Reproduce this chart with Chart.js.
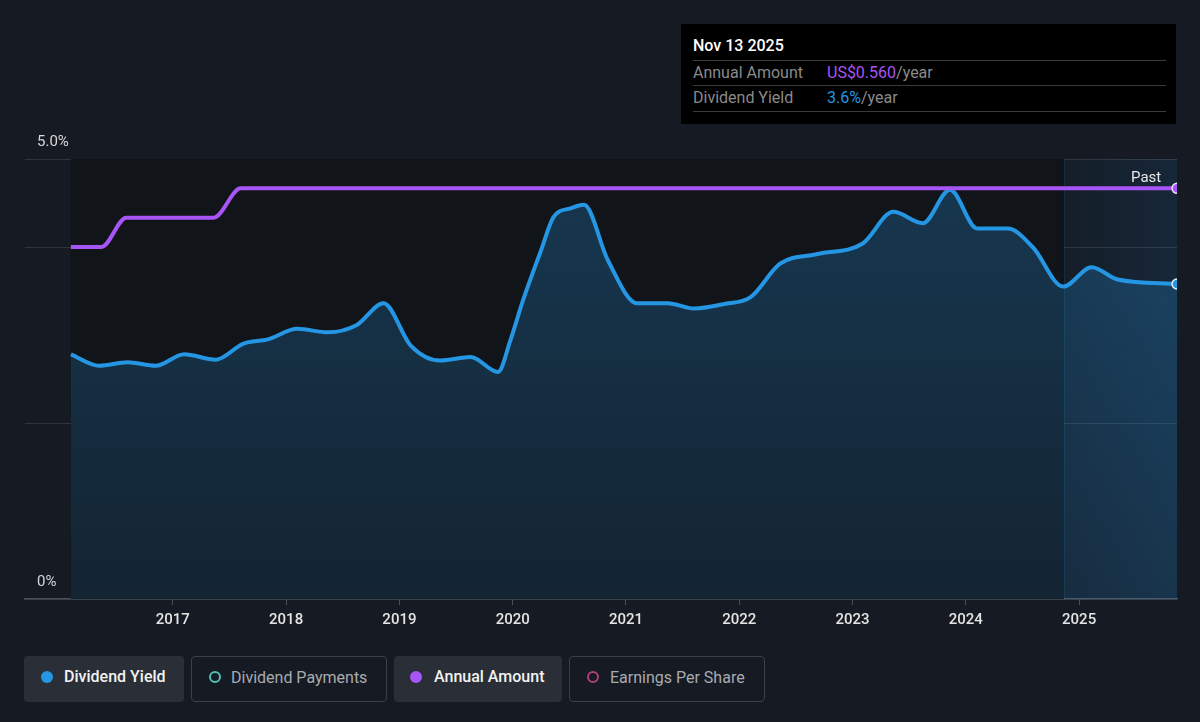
<!DOCTYPE html>
<html>
<head>
<meta charset="utf-8">
<script src="https://cdn.jsdelivr.net/npm/chart.js@4.4.1/dist/chart.umd.min.js"></script>
<style>
    html, body { margin: 0; padding: 0; background: #151a23; font-family: Roboto, "Noto Sans", sans-serif; }
    #wrap { position: relative; width: 1200px; height: 722px; overflow: hidden; }
    #chartBox { position: absolute; left: 0; top: 0; width: 1200px; height: 650px; }
    .tip { position: absolute; left: 681px; top: 24px; width: 495px; height: 100px; background: #000; }
    .tip-title { position: absolute; left: 12px; top: 12px; color: #fff; font-size: 16px; font-weight: 500; }
    .tip-row { position: absolute; left: 12px; width: 473px; height: 25px; border-top: 1px solid #3a3a3a; font-size: 16px; color: #8a8a8a; line-height: 24px; }
    .tip-row .val { position: absolute; left: 134px; top: 0; }
    .past { position: absolute; left: 1131px; top: 168px; color: #e8e8e8; font-size: 15px; }
    .legend { position: absolute; top: 656px; height: 46px; box-sizing: border-box; border-radius: 4px; font-size: 16px; line-height: 42px; }
    .legend.on { background: #2a2e36; color: #f2f2f2; font-weight: 500; }
    .legend.off { border: 1px solid #3c4049; color: #a9abb0; }
    .legend .dot { position: absolute; top: 15px; width: 12px; height: 12px; border-radius: 50%; box-sizing: border-box; }
    .legend.off .dot { top: 14px; }
    .legend .txt { position: absolute; top: 0; }
</style>
</head>
<body>
<div id="wrap">
    <div id="chartBox"><canvas id="yieldChart"></canvas></div>

    <div class="tip">
        <div class="tip-title">Nov 13 2025</div>
        <div class="tip-row" style="top:36px">Annual Amount<span class="val"><span style="color:#a855f7">US$0.560</span>/year</span></div>
        <div class="tip-row" style="top:61px">Dividend Yield<span class="val"><span style="color:#2596e4">3.6%</span>/year</span></div>
        <div class="tip-row" style="top:87px;height:0"></div>
    </div>

    <div class="past">Past</div>

    <div class="legend on" style="left:24px;width:160px">
        <span class="dot" style="left:17px;background:#2596e4"></span><span class="txt" style="left:40px">Dividend Yield</span>
    </div>
    <div class="legend off" style="left:191px;width:196px">
        <span class="dot" style="left:17px;border:2px solid #4fc1b0"></span><span class="txt" style="left:39px">Dividend Payments</span>
    </div>
    <div class="legend on" style="left:394px;width:168px">
        <span class="dot" style="left:16px;background:#a855f7"></span><span class="txt" style="left:40px">Annual Amount</span>
    </div>
    <div class="legend off" style="left:569px;width:196px">
        <span class="dot" style="left:17px;border:2px solid #b0407a"></span><span class="txt" style="left:40px">Earnings Per Share</span>
    </div>
</div>

<script>
// dates are decimal years
const yieldDates = [2016.10, 2016.35, 2016.60, 2016.85, 2017.10, 2017.38, 2017.62, 2017.84, 2018.10, 2018.37,
    2018.62, 2018.86, 2019.10, 2019.36, 2019.63, 2019.87, 2019.98, 2020.09, 2020.25, 2020.36,
    2020.51, 2020.63, 2020.84, 2021.10, 2021.37, 2021.60, 2021.86, 2022.10, 2022.36, 2022.69,
    2023.09, 2023.36, 2023.62, 2023.86, 2024.10, 2024.37, 2024.59, 2024.86, 2025.11, 2025.34, 2025.864];
const yieldValues = [2.78, 2.65, 2.69, 2.65, 2.78, 2.72, 2.90, 2.95, 3.07, 3.03,
    3.11, 3.36, 2.88, 2.71, 2.75, 2.58, 2.94, 3.39, 3.96, 4.34,
    4.44, 4.48, 3.85, 3.36, 3.36, 3.30, 3.35, 3.43, 3.81, 3.92,
    4.04, 4.40, 4.27, 4.65, 4.21, 4.21, 4.00, 3.55, 3.77, 3.63, 3.58];

const amountDates = [2016.10, 2016.37, 2016.59, 2017.36, 2017.60, 2025.864];
const amountValues = [0.48, 0.48, 0.52, 0.52, 0.56, 0.56];

const yearTicks = [2017, 2018, 2019, 2020, 2021, 2022, 2023, 2024, 2025];
const yieldTicks = [0, 2, 4, 5];
const pastStart = 2024.866;

const colors = {
    blue: '#2596e4',
    purple: '#a855f7',
    grid: '#2f333b',
    axis: '#4b4f57',
    plotBg: '#111419'
};

const toPoints = (xs, ys) => xs.map((x, i) => ({ x: x, y: ys[i] }));
const lastDot = (n) => (ctx) => ctx.dataIndex === n - 1 ? 5 : 0;

const backdrop = {
    id: 'backdrop',
    beforeDatasetsDraw(chart) {
        const { ctx, chartArea, scales } = chart;
        const x0 = scales.x.getPixelForValue(yieldDates[0]);
        const xp = scales.x.getPixelForValue(pastStart);
        ctx.save();
        ctx.fillStyle = colors.plotBg;
        ctx.fillRect(x0, chartArea.top, xp - x0, chartArea.bottom - chartArea.top);
        const g = ctx.createLinearGradient(xp, 0, chartArea.right, 0);
        g.addColorStop(0, 'rgba(37,150,228,0.03)');
        g.addColorStop(1, 'rgba(37,150,228,0.11)');
        ctx.fillStyle = g;
        ctx.fillRect(xp, chartArea.top, chartArea.right - xp, chartArea.bottom - chartArea.top);
        ctx.strokeStyle = 'rgba(37,150,228,0.14)';
        ctx.lineWidth = 1;
        ctx.beginPath();
        ctx.moveTo(Math.round(xp) + 0.5, chartArea.top);
        ctx.lineTo(Math.round(xp) + 0.5, chartArea.bottom);
        ctx.stroke();
        ctx.restore();
    }
};

new Chart(document.getElementById('yieldChart').getContext('2d'), {
    type: 'line',
    data: {
        datasets: [
            {
                label: 'Annual Amount',
                data: toPoints(amountDates, amountValues),
                yAxisID: 'yAmt',
                borderColor: colors.purple,
                borderWidth: 4,
                cubicInterpolationMode: 'monotone',
                fill: false,
                pointRadius: lastDot(amountDates.length),
                pointBackgroundColor: colors.purple,
                pointBorderColor: '#e8e0f5',
                pointBorderWidth: 1.5,
                clip: 0
            },
            {
                label: 'Dividend Yield',
                data: toPoints(yieldDates, yieldValues),
                yAxisID: 'y',
                borderColor: colors.blue,
                borderWidth: 4,
                cubicInterpolationMode: 'monotone',
                fill: 'origin',
                backgroundColor: (c) => {
                    const area = c.chart.chartArea;
                    if (!area) return 'rgba(37,150,228,0.2)';
                    const g = c.chart.ctx.createLinearGradient(0, area.top, 0, area.bottom);
                    g.addColorStop(0, 'rgba(37,150,228,0.28)');
                    g.addColorStop(1, 'rgba(37,150,228,0.12)');
                    return g;
                },
                pointRadius: lastDot(yieldDates.length),
                pointBackgroundColor: colors.blue,
                pointBorderColor: '#e6f0fa',
                pointBorderWidth: 1.5,
                clip: 0
            }
        ]
    },
    options: {
        responsive: true,
        maintainAspectRatio: false,
        animation: false,
        layout: { padding: { left: 1, right: 23, top: 159, bottom: 15 } },
        plugins: { legend: { display: false }, tooltip: { enabled: false } },
        scales: {
            x: {
                type: 'linear',
                min: 2015.695,
                max: 2025.864,
                afterBuildTicks: (scale) => { scale.ticks = yearTicks.map((v) => ({ value: v })); },
                grid: { drawOnChartArea: false, drawTicks: true, tickLength: 6, color: colors.axis },
                border: { display: true, color: colors.axis, width: 1.5 },
                ticks: {
                    color: '#e4e4e4',
                    font: { family: 'Roboto', size: 15, weight: '500' },
                    padding: 6,
                    maxRotation: 0,
                    callback: (v) => String(v)
                }
            },
            y: {
                min: 0,
                max: 5,
                afterBuildTicks: (scale) => { scale.ticks = yieldTicks.map((v) => ({ value: v })); },
                grid: { drawTicks: false, color: colors.grid, lineWidth: 1 },
                border: { display: false },
                ticks: {
                    mirror: true,
                    padding: 12,
                    labelOffset: -17,
                    color: '#d8d8d8',
                    font: { family: 'Roboto', size: 15 },
                    callback: (v) => v === 5 ? '5.0%' : (v === 0 ? '0%' : '')
                }
            },
            yAmt: {
                min: 0,
                max: 0.6,
                display: false
            }
        }
    },
    plugins: [backdrop]
});
</script>
</body>
</html>
